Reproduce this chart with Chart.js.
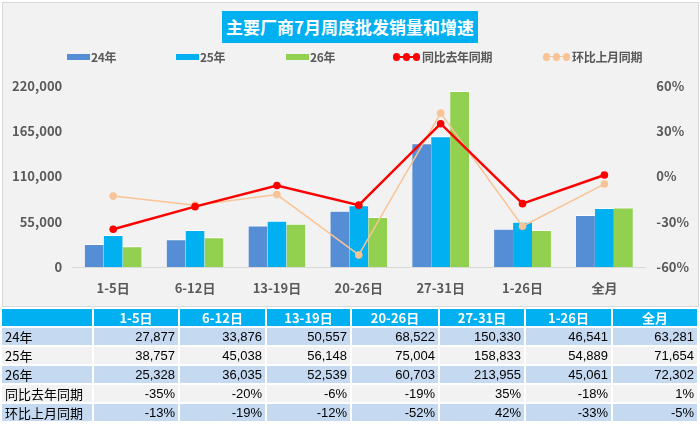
<!DOCTYPE html>
<html><head><meta charset="utf-8">
<script src="https://cdn.jsdelivr.net/npm/chart.js@4/dist/chart.umd.min.js"></script>
<style>
body{margin:0;width:700px;height:426px;overflow:hidden;background:#fff;font-family:"Noto Sans CJK SC",sans-serif;position:relative;}
#box{position:absolute;left:2px;top:2px;width:695px;height:303px;background:#f2f2f2;border:1px solid #d9d9d9;}
#cv{position:absolute;left:0;top:0;}
#title{position:absolute;left:222px;top:11px;width:256px;height:32px;background:#00b0f0;color:#fff;font-weight:bold;font-size:17px;line-height:32px;text-align:center;white-space:nowrap;}
.lgt{position:absolute;top:49px;height:16px;font-size:12px;font-weight:bold;color:#595959;line-height:16px;white-space:nowrap;letter-spacing:-0.3px;}
.lgr{position:absolute;top:54px;width:23px;height:6px;}
.lgl{position:absolute;height:0;}
.dot{position:absolute;border-radius:50%;}
#tbl{position:absolute;left:0;top:307px;border-collapse:collapse;table-layout:fixed;}
#tbl td{height:17px;padding:0 3px 0 3px;border:2px solid #fff;font-size:13px;line-height:17px;white-space:nowrap;overflow:hidden;color:#000;font-family:"Liberation Sans","Noto Sans CJK SC",sans-serif;text-align:right;}
#tbl td.c0{text-align:left;font-family:"Noto Sans CJK SC",sans-serif;}
#tbl tr.hd td{background:#00b0f0;color:#fff;font-weight:bold;text-align:center;font-family:"Noto Sans CJK SC",sans-serif;}
</style>
</head><body>
<div id="box"></div>
<canvas id="cv" width="700" height="310"></canvas>
<div id="title">主要厂商7月周度批发销量和增速</div>
<div id="legend"></div>
<table id="tbl"></table>
<script>
const categories = ['1-5日','6-12日','13-19日','20-26日','27-31日','1-26日','全月'];
const seriesNames = ['24年','25年','26年'];
const sales24 = [27877,33876,50557,68522,150330,46541,63281];
const sales25 = [38757,45038,56148,75004,158833,54889,71654];
const sales26 = [25328,36035,52539,60703,213955,45061,72302];
const yoyName = '同比去年同期';
const momName = '环比上月同期';
const yoy = [-35,-20,-6,-19,35,-18,1];
const mom = [-13,-19,-12,-52,42,-33,-5];
const leftTicks = [0,55000,110000,165000,220000];
const rightTicks = [-60,-30,0,30,60];

const C24='#558ed5', C25='#00b0f0', C26='#92d050', CY='#ff0000', CM='#f8c496';
const tickFont = {family:'"Noto Sans CJK SC", sans-serif', size:13, weight:'bold'};
const tickColor = '#595959';

new Chart(document.getElementById('cv'), {
  type:'bar',
  data:{
    labels:categories,
    datasets:[
      {type:'line',label:yoyName,data:yoy,yAxisID:'y1',borderColor:CY,backgroundColor:CY,borderWidth:2.5,pointRadius:3.8,pointBorderWidth:0,pointBackgroundColor:CY,order:0,tension:0},
      {type:'line',label:momName,data:mom,yAxisID:'y1',borderColor:CM,backgroundColor:CM,borderWidth:1.5,pointRadius:3.8,pointBorderWidth:0,pointBackgroundColor:CM,order:1,tension:0},
      {label:seriesNames[0],data:sales24,backgroundColor:C24,borderColor:'#ffffff',borderWidth:{top:1,left:0,right:0,bottom:0},yAxisID:'y',order:2},
      {label:seriesNames[1],data:sales25,backgroundColor:C25,borderColor:'#ffffff',borderWidth:{top:1,left:0,right:0,bottom:0},yAxisID:'y',order:2},
      {label:seriesNames[2],data:sales26,backgroundColor:C26,borderColor:'#ffffff',borderWidth:{top:1,left:0,right:0,bottom:0},yAxisID:'y',order:2}
    ]
  },
  options:{
    responsive:false,animation:false,
    categoryPercentage:0.695,barPercentage:1.0,
    layout:{padding:{top:86,bottom:1,left:2,right:0}},
    plugins:{legend:{display:false},tooltip:{enabled:false},title:{display:false}},
    scales:{
      x:{grid:{display:false,drawTicks:false},border:{display:true,color:'#d9d9d9',width:1},
         ticks:{font:tickFont,color:tickColor,padding:13.2}},
      y:{position:'left',min:leftTicks[0],max:leftTicks[leftTicks.length-1],
         afterBuildTicks:(s)=>{s.ticks=leftTicks.map(v=>({value:v}));},
         grid:{display:false,drawTicks:false},border:{display:false},
         ticks:{font:tickFont,color:tickColor,padding:10,callback:(v)=>Number(v).toLocaleString('en-US')}},
      y1:{position:'right',min:rightTicks[0],max:rightTicks[rightTicks.length-1],
         afterBuildTicks:(s)=>{s.ticks=rightTicks.map(v=>({value:v}));},
         grid:{display:false,drawTicks:false},border:{display:false},
         ticks:{font:tickFont,color:tickColor,padding:11,callback:(v)=>v+'%'}}
    }
  }
});

// legend (HTML)
const lg = document.getElementById('legend');
function add(html){lg.insertAdjacentHTML('beforeend',html);}
const rects=[[67,C24,seriesNames[0]],[176,C25,seriesNames[1]],[286,C26,seriesNames[2]]];
rects.forEach(([x,c,t])=>{
  add(`<div class="lgr" style="left:${x}px;background:${c}"></div><div class="lgt" style="left:${x+24}px">${t}</div>`);
});
const lines=[[393,CY,yoyName,2.5],[543,CM,momName,1.5]];
lines.forEach(([x,c,t,w])=>{
  add(`<div class="lgl" style="left:${x}px;top:${57-w/2}px;width:27px;border-top:${w}px solid ${c}"></div>`);
  [x+3.5,x+13.5,x+23.5].forEach(cx=>add(`<div class="dot" style="left:${cx-3.8}px;top:${57-3.8}px;width:7.6px;height:7.6px;background:${c}"></div>`));
  add(`<div class="lgt" style="left:${x+29}px">${t}</div>`);
});

// table
const colW=[92,86,87,85,88,86,87,86];
const rowsDef=[
  [seriesNames[0],sales24.map(v=>v.toLocaleString('en-US')),'#c5d9f1'],
  [seriesNames[1],sales25.map(v=>v.toLocaleString('en-US')),'#f2f2f2'],
  [seriesNames[2],sales26.map(v=>v.toLocaleString('en-US')),'#c5d9f1'],
  [yoyName,yoy.map(v=>v+'%'),'#f2f2f2'],
  [momName,mom.map(v=>v+'%'),'#c5d9f1']
];
let h='<colgroup>'+colW.map(w=>`<col style="width:${w}px">`).join('')+'</colgroup>';
h+='<tr class="hd"><td class="c0"></td>'+categories.map(c=>`<td>${c}</td>`).join('')+'</tr>';
rowsDef.forEach(([n,vals,bg])=>{
  h+=`<tr style="background:${bg}"><td class="c0">${n}</td>`+vals.map(v=>`<td>${v}</td>`).join('')+'</tr>';
});
const tbl=document.getElementById('tbl');
tbl.style.width=colW.reduce((a,b)=>a+b,0)+'px';
tbl.innerHTML=h;
</script>
</body></html>
